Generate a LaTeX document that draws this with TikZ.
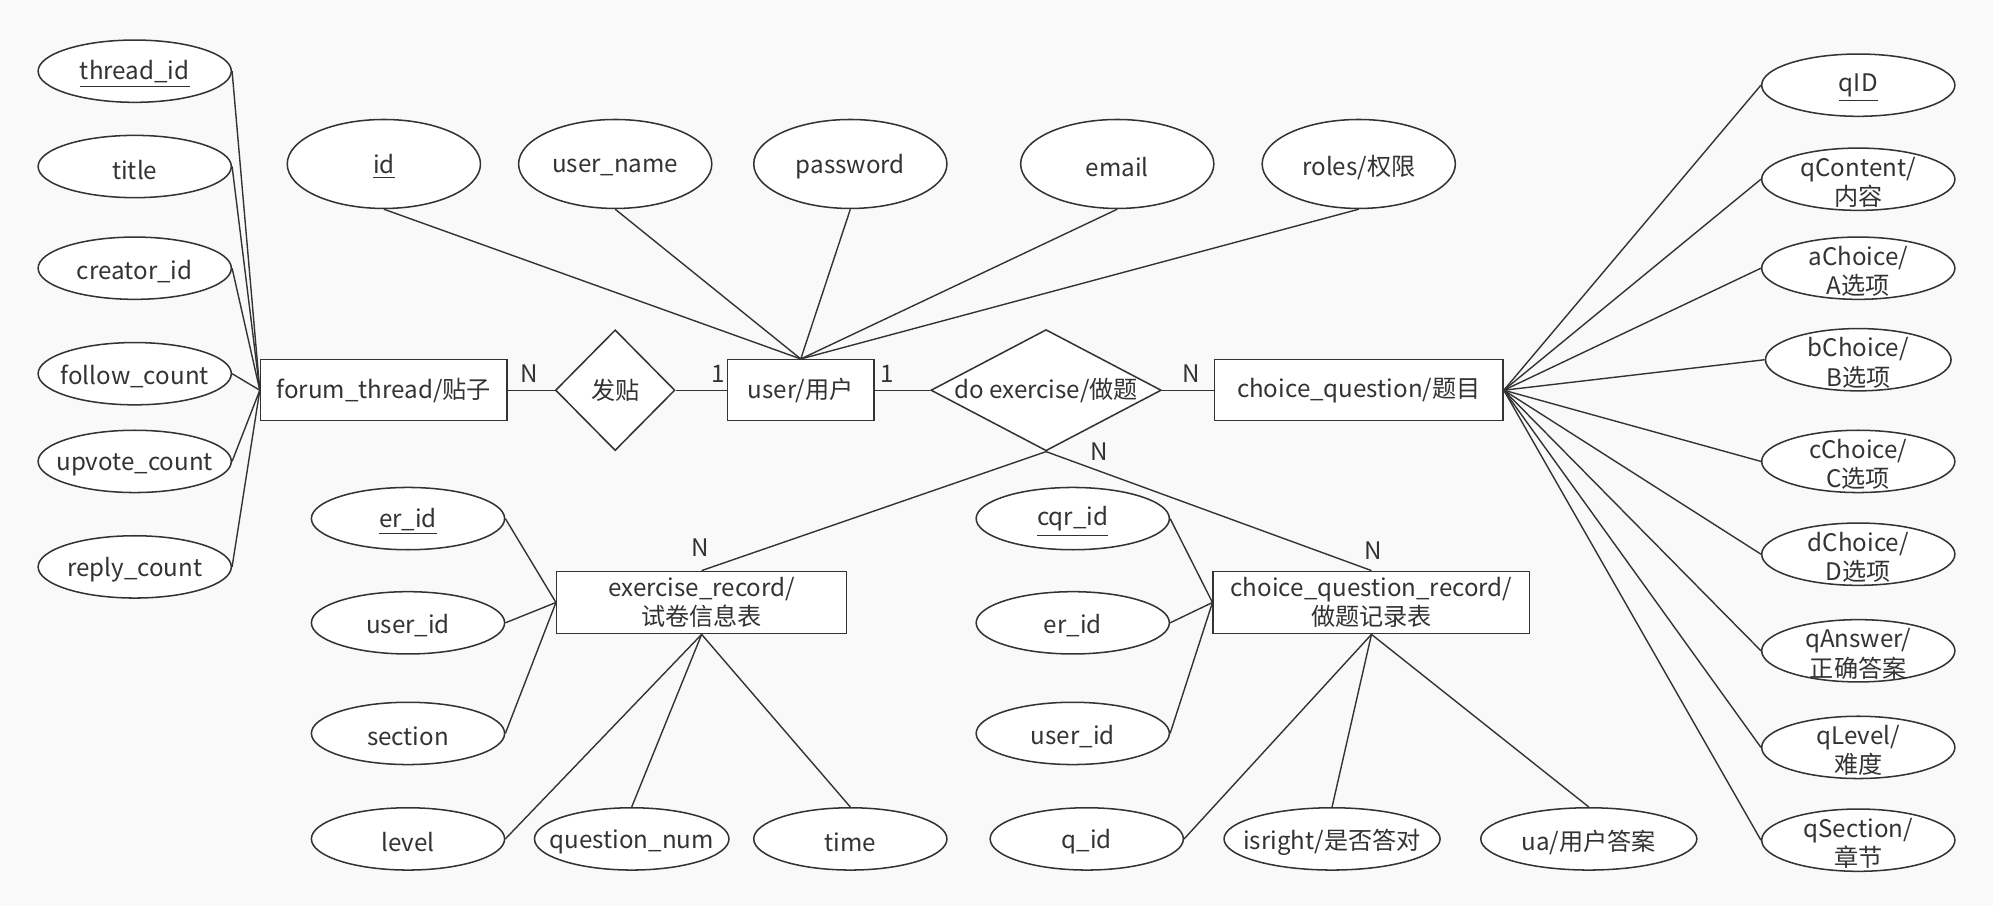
\documentclass[tikz,border=0pt]{standalone}
\usepackage{fontspec}
\setmainfont{Noto Sans CJK SC}
\usetikzlibrary{shapes.geometric}
\definecolor{bgcol}{HTML}{F9F9F9}
\definecolor{linecol}{HTML}{333333}
\definecolor{txtcol}{HTML}{333333}
\tikzset{
  every node/.style={font=\fontsize{9.5}{11.5}\selectfont, text=txtcol},
  lbl/.style={align=center, inner sep=0pt, yshift=-1.2pt},
  attr/.style={ellipse, draw=linecol, line width=0.6pt, fill=white, inner sep=0pt, minimum width=76pt, minimum height=24.5pt, label={[lbl]center:#1}},
  tallattr/.style={attr=#1, minimum height=35pt},
  entity/.style={rectangle, draw=linecol, line width=0.6pt, fill=white, inner sep=0pt, align=center},
  rel/.style={diamond, draw=linecol, line width=0.6pt, fill=white, inner sep=0pt},
  conn/.style={draw=linecol, line width=0.55pt},
  card/.style={inner sep=0pt}
}
\begin{document}
\begin{tikzpicture}[x=0.5pt,y=-0.5pt]
\fill[bgcol] (0,0) rectangle (1568,713);
\useasboundingbox (0,0) rectangle (1568,713);

% main row
\node[entity, minimum width=97pt, minimum height=24pt] (ft) at (302,307) {\raisebox{-1pt}{forum\_thread/贴子}};
\node[rel, minimum width=47pt, minimum height=47.5pt, aspect=1] (fatie) at (484,307) {发贴};
\node[entity, minimum width=57.5pt, minimum height=24pt] (user) at (630,307) {\raisebox{-1pt}{user/用户}};
\node[rel, minimum width=90pt, minimum height=47.5pt, aspect=1.9] (de) at (823,307) {do exercise/做题};
\node[entity, minimum width=113.5pt, minimum height=24pt] (cq) at (1069,307) {\raisebox{-1pt}{choice\_question/题目}};

\node[card] (c1) at (416,294) {N};
\node[card] (c2) at (565,294) {1};
\node[card] (c3) at (698,294) {1};
\node[card] (c4) at (937,294) {N};
\node[card] (c5) at (865,355) {N};
\node[card] (c6) at (551,431) {N};
\node[card] (c7) at (1080,433) {N};

% forum thread attributes
\node[attr={\underline{thread\_id}}] (tid) at (106,56) {};
\node[attr={title}] (title) at (106,131) {};
\node[attr={creator\_id}] (cid) at (106,211) {};
\node[attr={follow\_count}] (fc) at (106,294) {};
\node[attr={upvote\_count}] (uc) at (106,363) {};
\node[attr={reply\_count}] (rc) at (106,446) {};
\foreach \n in {tid,title,cid,fc,uc,rc} \draw[conn] (\n.east) -- (ft.west);

% user attributes
\node[tallattr={\underline{id}}] (uid) at (302,129) {};
\node[tallattr={user\_name}] (uname) at (484,129) {};
\node[tallattr={password}] (pwd) at (669,129) {};
\node[tallattr={email}] (email) at (879,129) {};
\node[tallattr={roles/权限}] (roles) at (1069,129) {};
\foreach \n in {uid,uname,pwd,email,roles} \draw[conn] (\n.south) -- (user.north);

% choice question attributes
\node[attr={\underline{qID}}] (qid) at (1462,67) {};
\node[attr={qContent/\\内容}] (qcont) at (1462,141) {};
\node[attr={aChoice/\\A选项}] (ach) at (1462,211) {};
\node[attr={bChoice/\\B选项}, minimum width=73pt] (bch) at (1462,283) {};
\node[attr={cChoice/\\C选项}] (cch) at (1462,363) {};
\node[attr={dChoice/\\D选项}] (dch) at (1462,436) {};
\node[attr={qAnswer/\\正确答案}] (qans) at (1462,512) {};
\node[attr={qLevel/\\难度}] (qlev) at (1462,588) {};
\node[attr={qSection/\\章节}] (qsec) at (1462,661) {};
\foreach \n in {qid,qcont,ach,bch,cch,dch,qans,qlev,qsec} \draw[conn] (\n.west) -- (cq.east);

% main row connectors
\draw[conn] (ft.east) -- (fatie.west);
\draw[conn] (fatie.east) -- (user.west);
\draw[conn] (user.east) -- (de.west);
\draw[conn] (de.east) -- (cq.west);

% exercise record
\node[entity, minimum width=114pt, minimum height=24.5pt] (er) at (552,474) {exercise\_record/\\试卷信息表};
\draw[conn] (de.south) -- (er.north);
\node[attr={\underline{er\_id}}] (erid) at (321,408) {};
\node[attr={user\_id}] (eruid) at (321,490) {};
\node[attr={section}] (sec) at (321,577) {};
\node[attr={level}] (lev) at (321,660) {};
\node[attr={question\_num}, minimum width=76.5pt] (qnum) at (497,660) {};
\node[attr={time}] (time) at (669,660) {};
\foreach \n in {erid,eruid,sec} \draw[conn] (\n.east) -- (er.west);
\draw[conn] (er.south) -- (lev.east);
\draw[conn] (er.south) -- (qnum.north);
\draw[conn] (er.south) -- (time.north);

% choice question record
\node[entity, minimum width=124.5pt, minimum height=24.5pt] (cqr) at (1079,474) {choice\_question\_record/\\做题记录表};
\draw[conn] (de.south) -- (cqr.north);
\node[attr={\underline{cqr\_id}}] (cqrid) at (844,408) {};
\node[attr={er\_id}] (cerid) at (844,490) {};
\node[attr={user\_id}] (cuid) at (844,577) {};
\node[attr={q\_id}] (qqid) at (855,660) {};
\node[attr={isright/是否答对}, minimum width=85pt] (isr) at (1048,660) {};
\node[attr={ua/用户答案}, minimum width=85pt] (ua) at (1250,660) {};
\foreach \n in {cqrid,cerid,cuid} \draw[conn] (\n.east) -- (cqr.west);
\draw[conn] (cqr.south) -- (qqid.east);
\draw[conn] (cqr.south) -- (isr.north);
\draw[conn] (cqr.south) -- (ua.north);
\end{tikzpicture}
\end{document}
